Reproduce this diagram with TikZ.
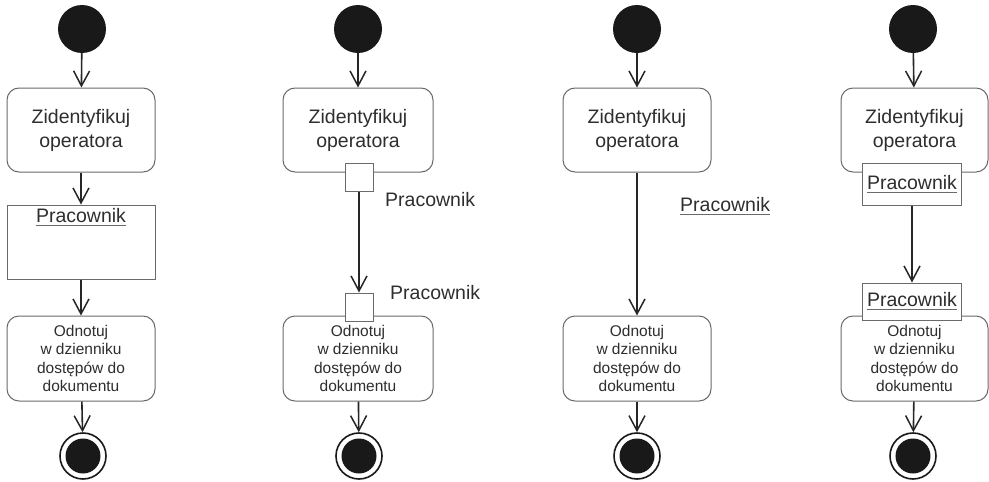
\documentclass[tikz,border=0pt]{standalone}
\usepackage{fontspec}
\setmainfont{Liberation Sans}
\usetikzlibrary{arrows.meta}
\definecolor{boxline}{HTML}{6A6A6A}
\definecolor{txt}{HTML}{2E2E2E}
\newcommand\myuline[1]{\leavevmode\setbox0\hbox{#1}\rlap{\raisebox{-3.2pt}{\color{boxline}\rule{\wd0}{1.1pt}}}\box0}
\begin{document}
\begin{tikzpicture}[x=1pt,y=-1pt,
  every node/.style={text=txt},
  big/.style={font=\fontsize{19.5}{24}\selectfont},
  small/.style={font=\fontsize{15.5}{18.4}\selectfont},
  act/.style={draw=boxline,line width=1pt,rounded corners=12pt,fill=white,minimum width=148pt,inner sep=0pt,align=center},
  obj/.style={draw=boxline,line width=1pt,fill=white,inner sep=0pt},
  startnode/.style={circle,fill=black!90,minimum size=48pt,inner sep=0pt},
  endnode/.style={circle,draw=black!90,line width=1.6pt,minimum size=46pt,inner sep=0pt,
     path picture={\fill[black!90] (path picture bounding box.center) circle (17.5pt);}},
  flow/.style={draw=black!85,line width=1.6pt,-{Straight Barb[length=15pt,width=16pt,line width=1.5pt]}}
]
\useasboundingbox (0,0) rectangle (989,482);
% ---------- column 1
\node[startnode] (s1) at (82,29) {};
\node[act,big,minimum height=84pt] (a1) at (81,130) {Zidentyfikuj\\operatora};
\node[obj,minimum width=148pt,minimum height=74pt] (o1) at (81,242) {};
\node[big,anchor=north,inner sep=0pt] (o1t) at ([yshift=-4pt]o1.north) {\myuline{Pracownik}};
\node[act,small,minimum height=85pt] (b1) at (81,358.5) {Odnotuj\\w dzienniku\\dostępów do\\dokumentu};
\node[endnode] (e1) at (83,456) {};
\draw[flow] (s1) -- (a1);
\draw[flow] (a1) -- (o1);
\draw[flow] (o1) -- (b1);
\draw[flow] (b1) -- (e1);
% ---------- column 2
\node[startnode] (s2) at (358,29) {};
\node[act,big,minimum width=150pt,minimum height=84pt] (a2) at (358,130) {Zidentyfikuj\\operatora};
\node[act,small,minimum width=150pt,minimum height=85pt] (b2) at (358,358.5) {Odnotuj\\w dzienniku\\dostępów do\\dokumentu};
\node[obj,minimum size=28pt] (p2a) at (359,177) {};
\node[obj,minimum size=28pt] (p2b) at (359,307) {};
\node[big,anchor=west,inner sep=0pt] (l2a) at (385,200) {Pracownik};
\node[big,anchor=west,inner sep=0pt] (l2b) at (390,293) {Pracownik};
\node[endnode] (e2) at (359,456) {};
\draw[flow] (s2) -- (a2);
\draw[flow] (p2a) -- (p2b);
\draw[flow] (b2) -- (e2);
% ---------- column 3
\node[startnode] (s3) at (637,29) {};
\node[act,big,minimum height=84pt] (a3) at (637,130) {Zidentyfikuj\\operatora};
\node[act,small,minimum height=85pt] (b3) at (637,358.5) {Odnotuj\\w dzienniku\\dostępów do\\dokumentu};
\node[big,anchor=west,inner sep=0pt] (l3) at (680,206) {\myuline{Pracownik}};
\node[endnode] (e3) at (637,456) {};
\draw[flow] (s3) -- (a3);
\draw[flow] (a3) -- (b3);
\draw[flow] (b3) -- (e3);
% ---------- column 4
\node[startnode] (s4) at (913,29) {};
\node[act,big,minimum width=147pt,minimum height=84pt] (a4) at (914.5,130) {Zidentyfikuj\\operatora};
\node[act,small,minimum width=147pt,minimum height=85pt] (b4) at (914.5,358.5) {Odnotuj\\w dzienniku\\dostępów do\\dokumentu};
\node[obj,big,minimum width=99pt,minimum height=42pt] (o4a) at (912,184) {\myuline{Pracownik}};
\node[obj,big,minimum width=99pt,minimum height=37pt] (o4b) at (912,301.5) {\myuline{Pracownik}};
\node[endnode] (e4) at (913,456) {};
\draw[flow] (s4) -- (a4);
\draw[flow] (o4a) -- (o4b);
\draw[flow] (b4) -- (e4);
\end{tikzpicture}
\end{document}
